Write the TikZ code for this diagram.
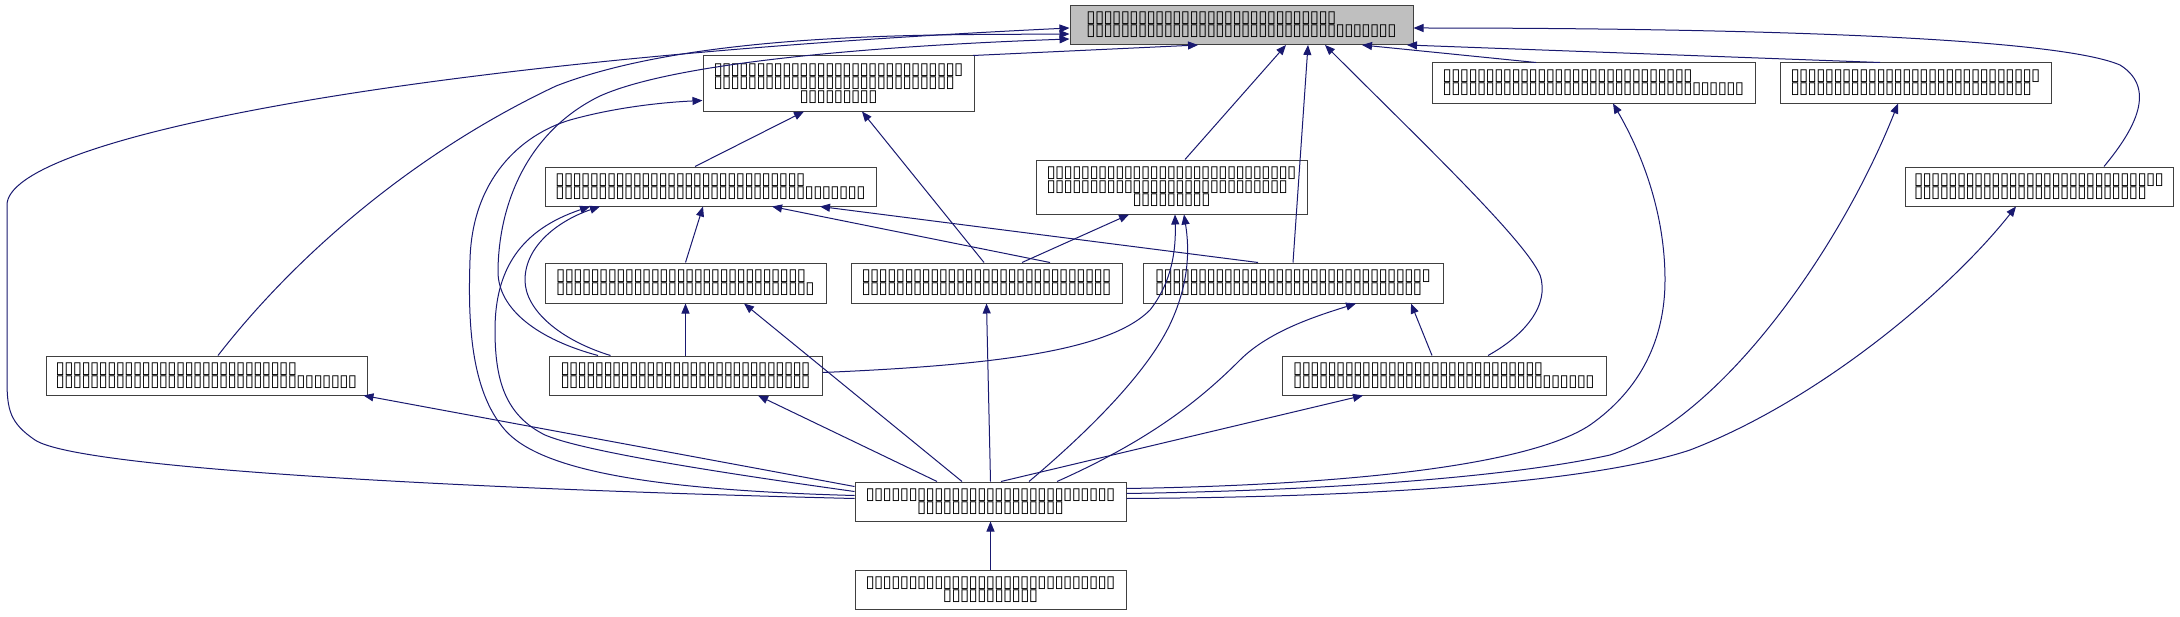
\documentclass[tikz,border=0pt]{standalone}
\usepackage{fontspec}
\newfontfamily\bxfont{DejaVu Sans}
\usetikzlibrary{arrows.meta}
\definecolor{edgec}{RGB}{25,25,112}
\definecolor{topfill}{RGB}{191,191,191}
\definecolor{bord}{RGB}{64,64,64}
\newcommand\tf[1]{\foreach\k in {1,...,#1}{\makebox[6.45pt]{▯}}}
\newcommand\tfp[2]{\makebox[\dimexpr6.45pt*#2\relax][l]{\tf{#1}}}
\begin{document}
\begin{tikzpicture}[x=0.75pt,y=-0.75pt,
  nd/.style 2 args={draw=bord, line width=0.75pt, fill=white, minimum width=#1*0.75pt, minimum height=#2*0.75pt, inner sep=0pt, align=center, font=\bxfont\fontsize{12.5}{10}\selectfont},
  conn/.style={draw=edgec, line width=0.75pt, -{Triangle[length=7.5pt,width=6pt]}}]
\fill[white] (0,0) rectangle (2180,617);
\useasboundingbox (0,0) rectangle (2180,617);
\node[nd={343}{39}, fill=topfill] (top) at (1241.5,25) {\tfp{29}{36}\\\tf{36}};
\node[nd={271}{55}] (n2) at (838.5,83.5) {\tf{29}\\\tfp{28}{29}\\\tf{9}};
\node[nd={323}{40}] (n3) at (1593.5,83) {\tfp{29}{35}\\\tf{35}};
\node[nd={271}{40}] (n4) at (1915.5,83) {\tf{29}\\\tfp{28}{29}};
\node[nd={331}{39}] (n5) at (710.5,186.5) {\tfp{29}{36}\\\tf{36}};
\node[nd={271}{54}] (n6) at (1171.5,187) {\tf{29}\\\tfp{28}{29}\\\tf{9}};
\node[nd={268}{39}] (n7) at (2039,186.5) {\tf{29}\\\tfp{27}{29}};
\node[nd={281}{40}] (n8) at (685.5,283) {\tfp{29}{30}\\\tf{30}};
\node[nd={271}{40}] (n9) at (986.5,283) {\tf{29}\\\tf{29}};
\node[nd={300}{40}] (n10) at (1293,283) {\tf{32}\\\tfp{31}{32}};
\node[nd={321}{39}] (n11) at (206.5,375.5) {\tfp{28}{35}\\\tf{35}};
\node[nd={273}{39}] (n12) at (685.5,375.5) {\tf{29}\\\tf{29}};
\node[nd={324}{39}] (n13) at (1444,375.5) {\tfp{29}{35}\\\tf{35}};
\node[nd={271}{39}] (n14) at (990.5,501.5) {\tf{29}\\\tf{17}};
\node[nd={271}{39}] (n15) at (990.5,589.5) {\tf{29}\\\tf{11}};
% into top
\draw[conn] ([shift={(134.5,0)}]n2.north) -- ([shift={(-43.5,0)}]top.south);
\draw[conn] ([shift={(13.5,0)}]n6.north) -- ([shift={(44.5,0)}]top.south);
\draw[conn] (n10.north) -- ([shift={(66.5,0)}]top.south);
\draw[conn] ([shift={(44,0)}]n13.north) .. controls (1525,335) and (1550,305) .. (1540,275) .. controls (1525,240) and (1420,140) .. ([shift={(83.5,0)}]top.south);
\draw[conn] ([shift={(-57.5,0)}]n3.north) -- ([shift={(120.5,0)}]top.south);
\draw[conn] ([shift={(-35.5,0)}]n4.north) -- ([shift={(165.5,0)}]top.south);
\draw[conn] ([shift={(65,0)}]n7.north) .. controls (2130,135) and (2160,90) .. (2120,65) .. controls (2050,35) and (1700,28) .. ([shift={(0,3)}]top.east);
\draw[conn] ([shift={(11.5,0)}]n11.north) .. controls (300,250) and (420,150) .. (556,86) .. controls (700,30) and (950,35) .. ([shift={(0,9)}]top.west);
\draw[conn] ([shift={(0,-3)}]n14.west) .. controls (500,490) and (80,470) .. (35,440) .. controls (10,423) and (7,410) .. (7,380) -- (7,205) .. controls (7,140) and (400,60) .. ([shift={(0,3)}]top.west);
\draw[conn] ([shift={(-87.5,0)}]n12.north) .. controls (540,340) and (497,310) .. (498,270) .. controls (499,200) and (530,130) .. (600,96) .. controls (680,60) and (900,45) .. ([shift={(0,14)}]top.west);
% into n2
\draw[conn] ([shift={(0,-6)}]n14.west) .. controls (650,490) and (540,470) .. (505,430) .. controls (470,390) and (468,320) .. (470,260) .. controls (472,180) and (520,135) .. (570,120) .. controls (620,106) and (670,102) .. ([shift={(0,17)}]n2.west);
\draw[conn] ([shift={(-15.5,0)}]n5.north) -- ([shift={(-34.5,0)}]n2.south);
\draw[conn] ([shift={(-2.5,0)}]n9.north) -- ([shift={(23.5,0)}]n2.south);
% into n5
\draw[conn] ([shift={(-75,0)}]n12.north) .. controls (560,340) and (525,310) .. (525,280) .. controls (525,245) and (560,220) .. ([shift={(-110.5,0)}]n5.south);
\draw[conn] ([shift={(0,-10)}]n14.west) .. controls (700,470) and (580,450) .. (545,435) .. controls (505,415) and (495,380) .. (495,330) .. controls (495,270) and (520,230) .. ([shift={(-120.5,0)}]n5.south);
\draw[conn] (n8.north) -- ([shift={(-7.5,0)}]n5.south);
\draw[conn] ([shift={(63.5,0)}]n9.north) -- ([shift={(61.5,0)}]n5.south);
\draw[conn] ([shift={(-35,0)}]n10.north) -- ([shift={(109.5,0)}]n5.south);
% into n6
\draw[conn] ([shift={(35.5,0)}]n9.north) -- ([shift={(-42.5,0)}]n6.south);
\draw[conn] ([shift={(0,-3)}]n12.east) .. controls (1000,365) and (1110,350) .. (1150,310) .. controls (1172,282) and (1176,250) .. ([shift={(3.5,0)}]n6.south);
\draw[conn] ([shift={(38.5,0)}]n14.north) .. controls (1090,430) and (1150,370) .. (1172,320) .. controls (1192,275) and (1188,240) .. ([shift={(12.5,0)}]n6.south);
% into n8, n9, n10
\draw[conn] ([shift={(-28.5,0)}]n14.north) -- ([shift={(58.5,0)}]n8.south);
\draw[conn] (n12.north) -- (n8.south);
\draw[conn] (n14.north) -- (n9.south);
\draw[conn] ([shift={(66.5,0)}]n14.north) .. controls (1150,440) and (1200,400) .. (1240,360) .. controls (1270,330) and (1320,315) .. ([shift={(63,0)}]n10.south);
\draw[conn] ([shift={(-12,0)}]n13.north) -- ([shift={(118,0)}]n10.south);
% into n11, n12, n13
\draw[conn] ([shift={(0,-15)}]n14.west) -- ([shift={(-4,0)}]n11.south east);
\draw[conn] ([shift={(-53.5,0)}]n14.north) -- ([shift={(72.5,0)}]n12.south);
\draw[conn] ([shift={(10.5,0)}]n14.north) -- ([shift={(-81,0)}]n13.south);
% into n3, n4, n7
\draw[conn] ([shift={(0,-13)}]n14.east) .. controls (1350,485) and (1530,465) .. (1590,425) .. controls (1640,390) and (1665,340) .. (1665,280) .. controls (1665,210) and (1640,150) .. ([shift={(19.5,0)}]n3.south);
\draw[conn] ([shift={(0,-8)}]n14.east) .. controls (1350,490) and (1520,475) .. (1610,455) .. controls (1720,420) and (1840,250) .. ([shift={(-17.5,0)}]n4.south);
\draw[conn] ([shift={(0,-3)}]n14.east) .. controls (1400,497) and (1600,480) .. (1690,450) .. controls (1820,400) and (1950,290) .. ([shift={(-23,0)}]n7.south);
% into n14
\draw[conn] (n15.north) -- (n14.south);
\end{tikzpicture}
\end{document}
